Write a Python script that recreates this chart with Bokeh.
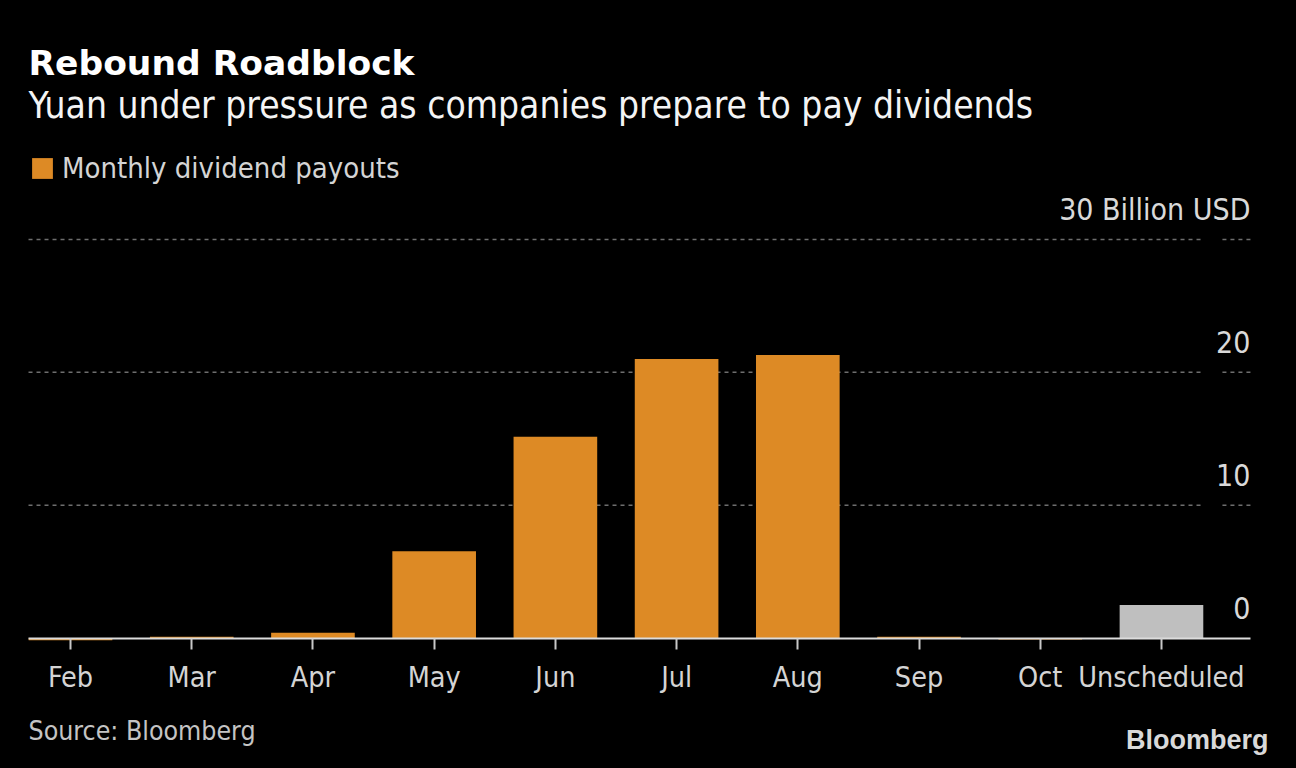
from bokeh.plotting import figure
from bokeh.models import Range1d, FixedTicker, Label, Legend, LegendItem, ColumnDataSource
from bokeh.embed import file_html
from bokeh.resources import INLINE
from bokeh.core.properties import value

# ---- data ----
categories = ["Feb", "Mar", "Apr", "May", "Jun", "Jul", "Aug", "Sep", "Oct", "Unscheduled"]
payouts = [-0.15, 0.1, 0.4, 6.55, 15.15, 21.0, 21.3, 0.1, -0.1, 2.5]
bar_colors = ["#DD8A25"] * 9 + ["#BFBFBF"]
y_ticks = [0, 10, 20, 30]
y_tick_labels = ["0", "10", "20", "30 Billion USD"]
grid_values = [10, 20, 30]

FONT = "DejaVu Sans Condensed"
BOLD_FONT = "DejaVu Sans"

W, H = 1296, 768
xs = list(range(len(categories)))
# plot-area extent (data units) inside the full-canvas frame
ax_left, ax_right = -0.3465, 9.734
gap_left, gap_right = 9.3465, 9.503

p = figure(width=W, height=H, output_backend="svg", toolbar_location=None,
           x_range=Range1d(-0.5776, 10.114), y_range=Range1d(-9.805, 47.98),
           min_border=0, y_axis_location=None)
p.background_fill_color = "black"
p.border_fill_color = "black"
p.outline_line_color = None
p.xgrid.visible = False
p.ygrid.visible = False

# grid lines (split before the label area)
n = len(grid_values)
gsrc = ColumnDataSource(dict(y=grid_values,
                             xa0=[ax_left] * n, xa1=[gap_left] * n,
                             xb0=[gap_right] * n, xb1=[ax_right] * n))
for a, b in (("xa0", "xa1"), ("xb0", "xb1")):
    p.segment(x0=a, x1=b, y0="y", y1="y", source=gsrc, line_color="#6E6E6E",
              line_width=1.5, line_dash="4 4", level="underlay")

src = ColumnDataSource(dict(x=xs, top=payouts, color=bar_colors, cat=categories))
bars = p.vbar(x="x", top="top", bottom=0, width=0.69, fill_color="color", line_color=None, source=src)

# y labels on the right, above grid lines
ysrc = ColumnDataSource(dict(y=y_ticks, label=y_tick_labels, x=[ax_right] * len(y_ticks)))
p.text(x="x", y="y", text="label", source=ysrc, text_align="right", text_baseline="alphabetic",
       y_offset=-30, text_font=value(FONT), text_font_size="30px", text_color="#D9D9D9")

# x axis at zero
ax = p.xaxis[0]
ax.fixed_location = 0
ax.bounds = (ax_left, ax_right)
ax.ticker = FixedTicker(ticks=xs)
ax.major_label_overrides = {i: c for i, c in zip(xs, categories)}
ax.axis_line_color = "#DCDCDC"
ax.axis_line_width = 2
ax.major_tick_line_color = "#C8C8C8"
ax.major_tick_line_width = 2
ax.major_tick_in = 0
ax.major_tick_out = 11
ax.minor_tick_line_color = None
ax.major_label_text_font = FONT
ax.major_label_text_font_size = "28.5px"
ax.major_label_text_color = "#D4D4D4"
ax.major_label_standoff = 12

# legend
legend = Legend(items=[LegendItem(label="Monthly dividend payouts", renderers=[bars], index=0)],
                location=(29, 583), orientation="horizontal",
                glyph_width=26, glyph_height=26, label_standoff=7, padding=0, margin=0,
                label_text_font=FONT, label_text_font_size="29px", label_text_color="#D4D4D4",
                background_fill_alpha=0, border_line_color=None)
p.add_layout(legend, "center")

# titles and notes (screen units from the bottom-left corner)
p.add_layout(Label(x=28, y=H - 62, x_units="screen", y_units="screen", text="Rebound Roadblock",
                   text_font=BOLD_FONT, text_font_style="bold", text_font_size="34.5px",
                   text_color="#FFFFFF", text_baseline="alphabetic"))
p.add_layout(Label(x=28, y=H - 105, x_units="screen", y_units="screen",
                   text="Yuan under pressure as companies prepare to pay dividends",
                   text_font=FONT, text_font_size="36.9px", text_color="#F4F4F4",
                   text_baseline="alphabetic"))
p.add_layout(Label(x=28, y=H - 730, x_units="screen", y_units="screen", text="Source: Bloomberg",
                   text_font=FONT, text_font_size="26.5px", text_color="#C4C4C4",
                   text_baseline="alphabetic"))
p.add_layout(Label(x=1268, y=H - 739, x_units="screen", y_units="screen", text="Bloomberg",
                   text_font="Liberation Sans", text_font_style="bold", text_font_size="27px",
                   text_color="#D9D9D9", text_align="right", text_baseline="alphabetic"))

html = file_html(p, INLINE)
html = html.replace("</head>", "<style>html,body{background:#000000;}</style></head>", 1)
open("out.html", "w").write(html)
